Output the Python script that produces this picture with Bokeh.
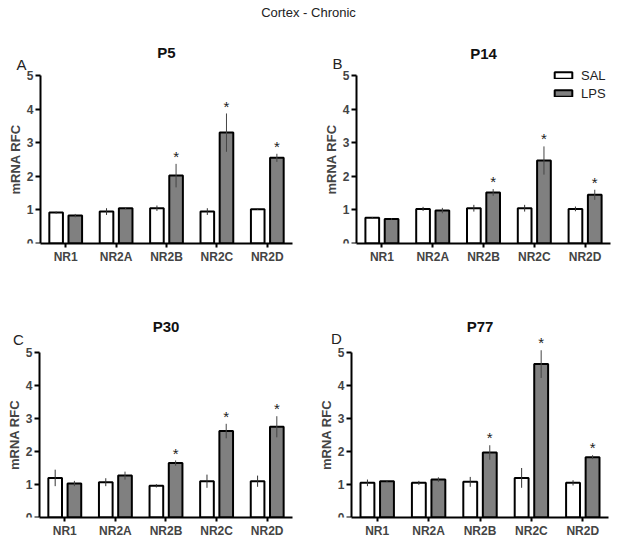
from bokeh.plotting import figure
from bokeh.models import (ColumnDataSource, Range1d, FixedTicker, Label,
                          Div, Legend, LegendItem)
from bokeh.layouts import column, row
from bokeh.transform import dodge
from bokeh.core.properties import value
from bokeh.embed import file_html
from bokeh.resources import INLINE

cats = ["NR1", "NR2A", "NR2B", "NR2C", "NR2D"]
sig = ["", "", "*", "*", "*"]
y_ticks = [0, 1, 2, 3, 4, 5]

p5_sal = [0.92, 0.95, 1.05, 0.95, 1.02]
p5_sal_err = [0.03, 0.10, 0.08, 0.10, 0.02]
p5_lps = [0.83, 1.05, 2.02, 3.30, 2.55]
p5_lps_err = [0.05, 0.03, 0.35, 0.57, 0.12]

p14_sal = [0.77, 1.03, 1.05, 1.05, 1.03]
p14_sal_err = [0.02, 0.06, 0.10, 0.10, 0.07]
p14_lps = [0.73, 0.98, 1.52, 2.47, 1.45]
p14_lps_err = [0.02, 0.08, 0.10, 0.42, 0.15]

p30_sal = [1.20, 1.07, 0.96, 1.10, 1.10]
p30_sal_err = [0.25, 0.12, 0.05, 0.20, 0.17]
p30_lps = [1.03, 1.27, 1.65, 2.62, 2.75]
p30_lps_err = [0.08, 0.12, 0.08, 0.22, 0.32]

p77_sal = [1.05, 1.05, 1.08, 1.20, 1.05]
p77_sal_err = [0.10, 0.06, 0.15, 0.30, 0.08]
p77_lps = [1.10, 1.15, 1.97, 4.65, 1.83]
p77_lps_err = [0.02, 0.07, 0.22, 0.42, 0.06]

FONT = "Liberation Sans"
GRAY = "#808080"
xpos = [i + 0.5 for i in range(len(cats))]


def panel(title, title_y, letter, letter_pos, sal, sal_err, lps, lps_err,
          width, height, x_start, y_end, bl, br, bt, bb, legend=False):
    p = figure(x_range=Range1d(x_start, len(cats)), y_range=Range1d(0, y_end),
               width=width, height=height,
               output_backend="svg", toolbar_location=None,
               min_border_left=bl, min_border_right=br,
               min_border_top=bt, min_border_bottom=bb)
    p.outline_line_color = None
    p.xgrid.visible = False
    p.ygrid.visible = False
    p.background_fill_color = None
    p.border_fill_color = None

    src = ColumnDataSource(dict(
        x=xpos, sal=sal, lps=lps,
        sal_lo=[v - e for v, e in zip(sal, sal_err)],
        sal_hi=[v + e for v, e in zip(sal, sal_err)],
        lps_lo=[v - e for v, e in zip(lps, lps_err)],
        lps_hi=[v + e for v, e in zip(lps, lps_err)],
        star_y=[v + e + 0.22 for v, e in zip(lps, lps_err)],
        sig=sig,
    ))
    xs = dodge("x", -0.19)
    xl = dodge("x", 0.19)
    r1 = p.vbar(x=xs, top="sal", width=0.27, source=src, fill_color="white",
                line_color="black", line_width=2)
    r2 = p.vbar(x=xl, top="lps", width=0.27, source=src, fill_color=GRAY,
                line_color="black", line_width=2)
    p.segment(x0=xs, x1=xs, y0="sal_lo", y1="sal_hi", source=src,
              line_color="#333333", line_width=1)
    p.segment(x0=xl, x1=xl, y0="lps_lo", y1="lps_hi", source=src,
              line_color="#444444", line_width=1)
    p.text(x=xl, y="star_y", text="sig", source=src, text_align="center",
           text_baseline="middle", text_font=value(FONT),
           text_font_size="15px", text_color="#222222")

    # panel title and panel letter
    p.add_layout(Label(x=len(cats) / 2, y=title_y, text=title, text_font=FONT,
                       text_font_size="15px", text_font_style="bold",
                       text_align="center", text_baseline="middle",
                       text_color="#111111"))
    p.add_layout(Label(x=letter_pos[0], y=letter_pos[1], text=letter,
                       text_font=FONT, text_font_size="15px",
                       text_align="center", text_baseline="middle",
                       text_color="#222222"))

    ya = p.yaxis[0]
    ya.fixed_location = 0
    ya.ticker = FixedTicker(ticks=y_ticks)
    ya.bounds = (0, 5)
    ya.axis_label = "mRNA RFC"
    ya.axis_label_text_font = FONT
    ya.axis_label_text_font_size = "13px"
    ya.axis_label_text_font_style = "bold"
    ya.axis_label_standoff = 1
    ya.major_label_text_font = FONT
    ya.major_label_text_font_size = "12px"
    ya.major_label_text_font_style = "bold"
    ya.major_label_standoff = 2
    ya.minor_tick_line_color = None
    ya.major_tick_in = 0
    ya.major_tick_out = 5
    ya.major_tick_line_width = 2
    ya.axis_line_width = 2

    xa = p.xaxis[0]
    xa.ticker = FixedTicker(ticks=xpos)
    xa.major_label_overrides = {x: c for x, c in zip(xpos, cats)}
    xa.bounds = (0, len(cats))
    xa.major_label_text_font = FONT
    xa.major_label_text_font_size = "12px"
    xa.major_label_text_font_style = "bold"
    xa.major_label_standoff = 2
    xa.minor_tick_line_color = None
    xa.major_tick_in = 0
    xa.major_tick_out = 4
    xa.major_tick_line_width = 2
    xa.axis_line_width = 2

    if legend:
        lg = Legend(items=[LegendItem(label="SAL", renderers=[r1]),
                           LegendItem(label="LPS", renderers=[r2])],
                    location=legend, margin=0, padding=5, spacing=0,
                    label_height=18, glyph_height=8, glyph_width=22,
                    label_standoff=7, label_text_font=FONT,
                    label_text_font_size="13px", label_text_color="#222222",
                    border_line_color=None, background_fill_alpha=0)
        p.add_layout(lg)
    return p


pa = panel("P5", 5.68, "A", (-0.377, 5.33), p5_sal, p5_sal_err, p5_lps, p5_lps_err,
           308, 250, -0.754, 6.458, 2, 16, 2, 31)
pb = panel("P14", 5.66, "B", (-0.374, 5.36), p14_sal, p14_sal_err, p14_lps, p14_lps_err,
           309, 250, -0.906, 6.458, 2, 7, 2, 31, legend=(242, 141))
pc = panel("P30", 5.78, "C", (-0.415, 5.39), p30_sal, p30_sal_err, p30_lps, p30_lps_err,
           308, 266, -0.731, 7.305, 2, 16, 2, 20)
pd = panel("P77", 5.78, "D", (-0.293, 5.42), p77_sal, p77_sal_err, p77_lps, p77_lps_err,
           309, 266, -0.798, 7.305, 2, 9, 2, 20)

title = Div(text="Cortex - Chronic", width=617, height=24, margin=0,
            styles={"text-align": "center", "font-family": "Liberation Sans, Arial",
                    "font-size": "13px", "color": "#222222", "line-height": "26px",
                    "width": "617px"})

layout = column(title, row(pa, pb), row(pc, pd))

open("out.html", "w").write(file_html(layout, INLINE))
